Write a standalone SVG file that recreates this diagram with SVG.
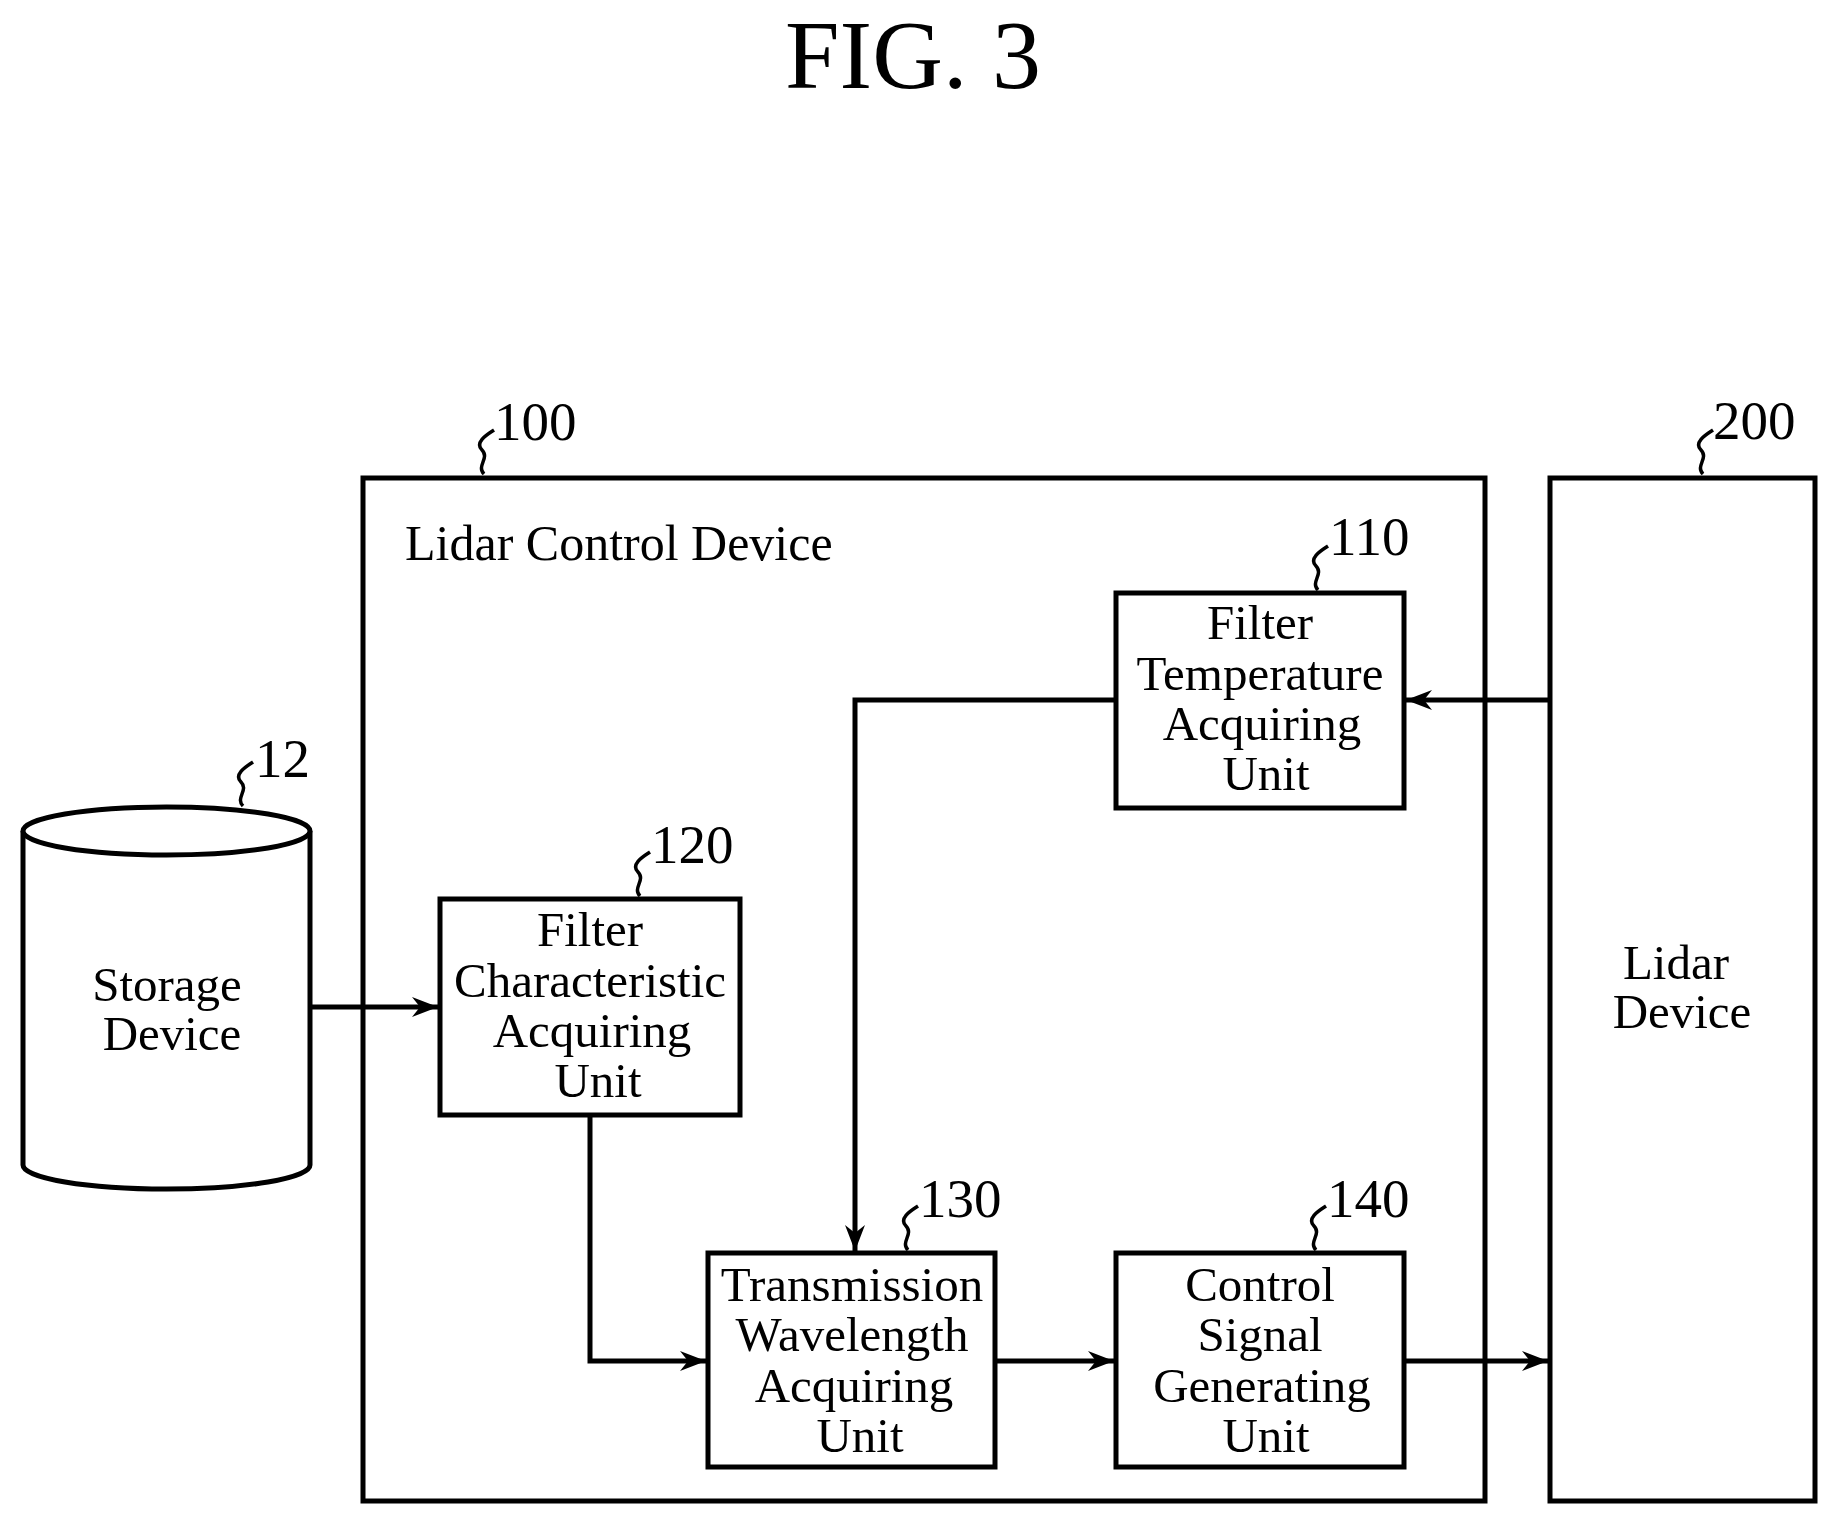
<svg xmlns="http://www.w3.org/2000/svg" width="1827" height="1516" viewBox="0 0 1827 1516">
<defs>
<style>
.b{fill:#fff;stroke:#000;stroke-width:5}
.t{font-family:"Liberation Serif",serif;font-size:49px;text-anchor:middle;fill:#000}
.n{font-family:"Liberation Serif",serif;font-size:55px;fill:#000}
.c{fill:none;stroke:#000;stroke-width:5}
.s{fill:none;stroke:#000;stroke-width:3.5}
</style>
<marker id="a" viewBox="0 0 30 24" refX="28" refY="12" markerWidth="30" markerHeight="24" markerUnits="userSpaceOnUse" orient="auto">
<path d="M2,2 L28,12 L2,22 L10,12 Z" fill="#000"/>
</marker>
</defs>
<rect width="1827" height="1516" fill="#fff"/>
<text x="913" y="88" font-family="Liberation Serif,serif" font-size="98" text-anchor="middle">FIG. 3</text>
<g id="n100">
<rect class="b" x="363" y="478" width="1122" height="1023"/>
<text x="405" y="560" font-family="Liberation Serif,serif" font-size="50">Lidar Control Device</text>
<path class="s" d="M484,474 C476,466 490,458 482,450 C474,442 488,434 494,430"/>
<text class="n" x="494" y="440">100</text>
</g>
<g id="n200">
<rect class="b" x="1550" y="478" width="265" height="1023"/>
<text class="t" x="1676" y="979">Lidar</text>
<text class="t" x="1682" y="1028">Device</text>
<path class="s" d="M1703,474 C1695,466 1709,458 1701,450 C1693,442 1707,434 1713,430"/>
<text class="n" x="1713" y="439">200</text>
</g>
<g id="n12">
<path class="b" d="M23,831 L23,1165 A143,24 0 0 0 310,1165 L310,831"/>
<ellipse class="b" cx="166.5" cy="831" rx="143.5" ry="24"/>
<text class="t" x="167" y="1001">Storage</text>
<text class="t" x="172" y="1050">Device</text>
<path class="s" d="M243,806 C235,798 249,790 241,782 C233,774 247,766 253,762"/>
<text class="n" x="255" y="777">12</text>
</g>
<g id="n110">
<rect class="b" x="1116" y="593" width="288" height="215"/>
<text class="t" x="1260" y="639">Filter</text>
<text class="t" x="1260" y="690">Temperature</text>
<text class="t" x="1262" y="740">Acquiring</text>
<text class="t" x="1266" y="790">Unit</text>
<path class="s" d="M1318,590 C1310,582 1324,574 1316,566 C1308,558 1322,550 1328,546"/>
<text class="n" x="1329" y="555">110</text>
</g>
<g id="n120">
<rect class="b" x="440" y="899" width="300" height="216"/>
<text class="t" x="590" y="946">Filter</text>
<text class="t" x="590" y="997">Characteristic</text>
<text class="t" x="592" y="1047">Acquiring</text>
<text class="t" x="598" y="1097">Unit</text>
<path class="s" d="M640,896 C632,888 646,880 638,872 C630,864 644,856 650,852"/>
<text class="n" x="651" y="863">120</text>
</g>
<g id="n130">
<rect class="b" x="708" y="1253" width="287" height="214"/>
<text class="t" x="852" y="1301">Transmission</text>
<text class="t" x="852" y="1351">Wavelength</text>
<text class="t" x="854" y="1402">Acquiring</text>
<text class="t" x="860" y="1452">Unit</text>
<path class="s" d="M908,1250 C900,1242 914,1234 906,1226 C898,1218 912,1210 918,1206"/>
<text class="n" x="919" y="1217">130</text>
</g>
<g id="n140">
<rect class="b" x="1116" y="1253" width="288" height="214"/>
<text class="t" x="1260" y="1301">Control</text>
<text class="t" x="1260" y="1351">Signal</text>
<text class="t" x="1262" y="1402">Generating</text>
<text class="t" x="1266" y="1452">Unit</text>
<path class="s" d="M1316,1250 C1308,1242 1322,1234 1314,1226 C1306,1218 1320,1210 1326,1206"/>
<text class="n" x="1327" y="1217">140</text>
</g>
<g id="connectors">
<path class="c" d="M310,1007 L438,1007" marker-end="url(#a)"/>
<path class="c" d="M590,1115 L590,1361 L706,1361" marker-end="url(#a)"/>
<path class="c" d="M995,1361 L1114,1361" marker-end="url(#a)"/>
<path class="c" d="M1404,1361 L1548,1361" marker-end="url(#a)"/>
<path class="c" d="M1550,700 L1406,700" marker-end="url(#a)"/>
<path class="c" d="M1116,700 L855,700 L855,1251" marker-end="url(#a)"/>
</g>
</svg>
